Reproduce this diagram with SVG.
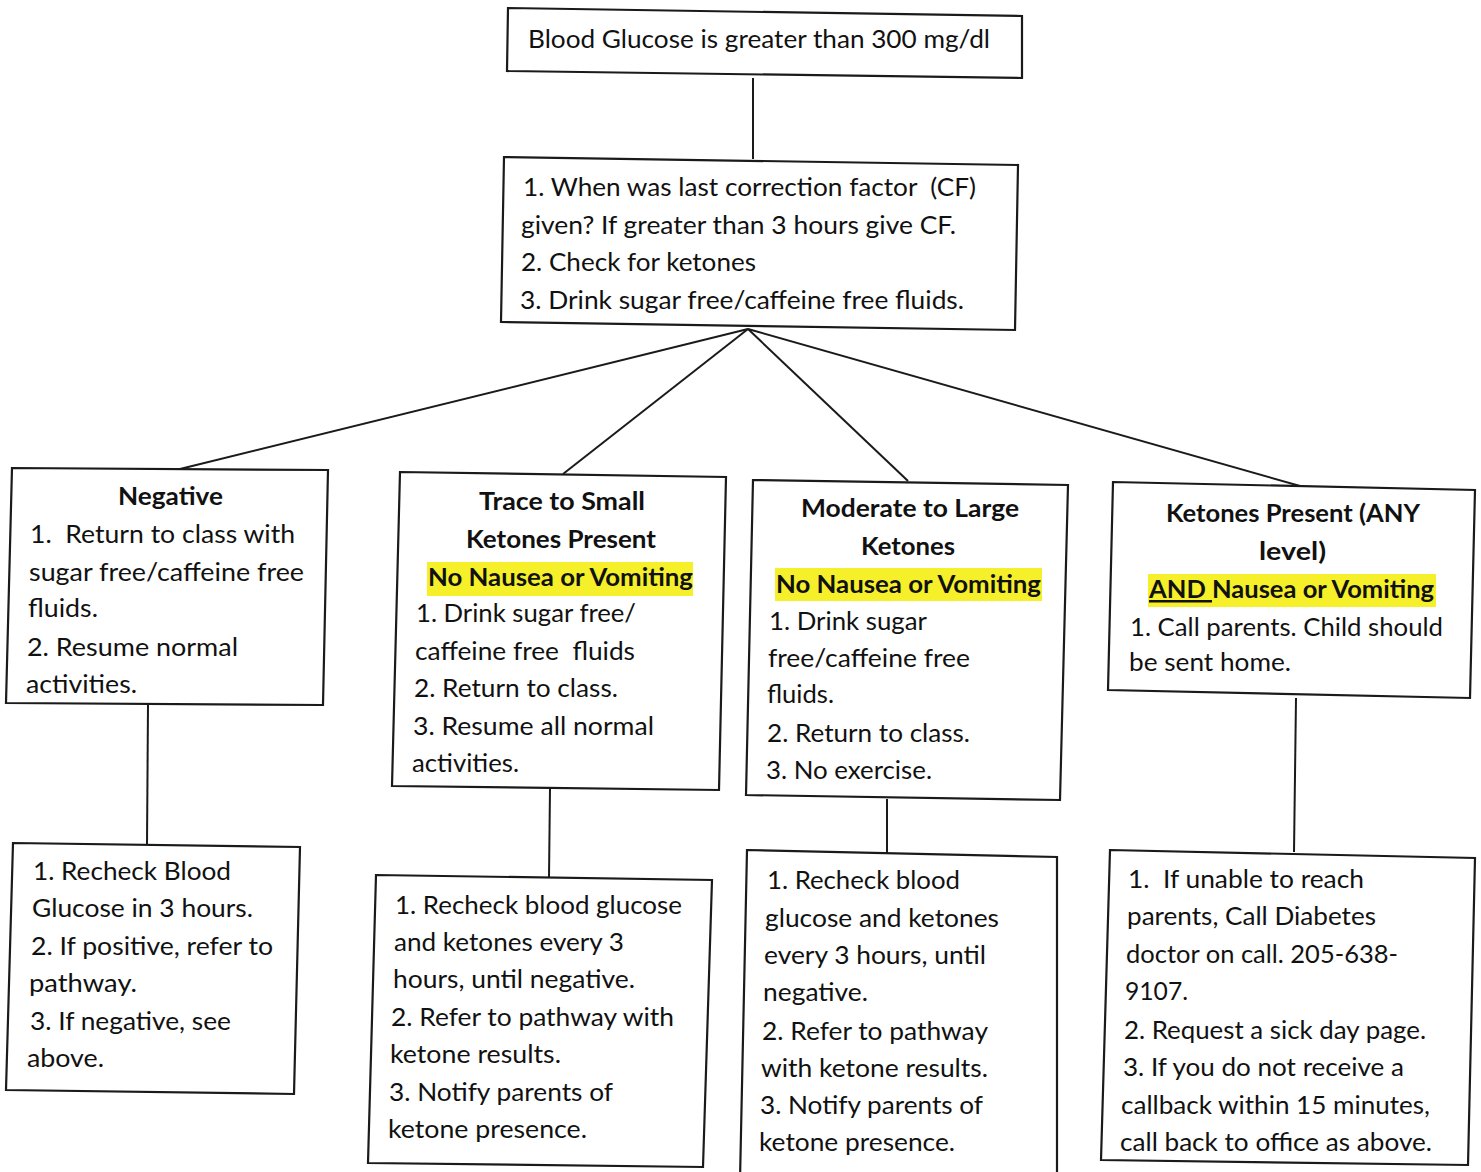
<svg xmlns="http://www.w3.org/2000/svg" width="1481" height="1172" viewBox="0 0 1481 1172" xml:space="preserve">
<style>
.box{fill:#fff;stroke:#1a1a1a;stroke-width:2.2}
.c line{stroke:#1a1a1a;stroke-width:2}
text{font-family:Lato,"Open Sans","Liberation Sans",sans-serif;font-size:25px;fill:#111;white-space:pre}
.b{font-weight:bold}
.hl{fill:#f6f02a}
</style>
<rect width="1481" height="1172" fill="#fff"/>
<g class="c" id="connectors">
<line x1="753" y1="78" x2="753" y2="159"/>
<line x1="748" y1="329" x2="180" y2="469"/>
<line x1="748" y1="329" x2="563" y2="474"/>
<line x1="748" y1="329" x2="908" y2="481"/>
<line x1="748" y1="329" x2="1300" y2="486"/>
<line x1="148" y1="705" x2="147" y2="844"/>
<line x1="550" y1="789" x2="549" y2="877"/>
<line x1="887" y1="799" x2="887" y2="856"/>
<line x1="1296" y1="698" x2="1294" y2="852"/>
</g>
<g id="n-top">
<polygon class="box" points="508,8 1022,16 1022,78 507,71"/>
<text x="528" y="48" textLength="462" lengthAdjust="spacingAndGlyphs">Blood Glucose is greater than 300 mg/dl</text>
</g>
<g id="n-steps">
<polygon class="box" points="504,157 1018,165 1015,330 501,322"/>
<text x="523" y="196" textLength="453" lengthAdjust="spacingAndGlyphs">1. When was last correction factor  (CF)</text>
<text x="521" y="234" textLength="435" lengthAdjust="spacingAndGlyphs">given? If greater than 3 hours give CF.</text>
<text x="521" y="271" textLength="235" lengthAdjust="spacingAndGlyphs">2. Check for ketones</text>
<text x="520" y="309" textLength="444" lengthAdjust="spacingAndGlyphs">3. Drink sugar free/caffeine free fluids.</text>
</g>
<g id="n-negative">
<polygon class="box" points="12,468 328,470 323,705 6,703"/>
<text class="b" x="118" y="505" textLength="105" lengthAdjust="spacingAndGlyphs">Negative</text>
<text x="30" y="543" textLength="265" lengthAdjust="spacingAndGlyphs">1.  Return to class with</text>
<text x="29" y="581" textLength="275" lengthAdjust="spacingAndGlyphs">sugar free/caffeine free</text>
<text x="28" y="617" textLength="70" lengthAdjust="spacingAndGlyphs">fluids.</text>
<text x="27" y="656" textLength="211" lengthAdjust="spacingAndGlyphs">2. Resume normal</text>
<text x="26" y="693" textLength="111" lengthAdjust="spacingAndGlyphs">activities.</text>
</g>
<g id="n-trace">
<polygon class="box" points="400,472 726,477 719,790 392,786"/>
<rect class="hl" x="427" y="562" width="266" height="34"/>
<text class="b" x="479" y="510" textLength="166" lengthAdjust="spacingAndGlyphs">Trace to Small</text>
<text class="b" x="466" y="548" textLength="190" lengthAdjust="spacingAndGlyphs">Ketones Present</text>
<text class="b" x="428" y="586" textLength="265" lengthAdjust="spacingAndGlyphs">No Nausea or Vomiting</text>
<text x="416" y="622" textLength="220" lengthAdjust="spacingAndGlyphs">1. Drink sugar free/</text>
<text x="415" y="660" textLength="220" lengthAdjust="spacingAndGlyphs">caffeine free  fluids</text>
<text x="414" y="697" textLength="204" lengthAdjust="spacingAndGlyphs">2. Return to class.</text>
<text x="413" y="735" textLength="241" lengthAdjust="spacingAndGlyphs">3. Resume all normal</text>
<text x="412" y="772" textLength="107" lengthAdjust="spacingAndGlyphs">activities.</text>
</g>
<g id="n-moderate">
<polygon class="box" points="753,480 1068,485 1060,800 746,795"/>
<rect class="hl" x="775" y="568" width="267" height="33"/>
<text class="b" x="801" y="517" textLength="218" lengthAdjust="spacingAndGlyphs">Moderate to Large</text>
<text class="b" x="861" y="555" textLength="94" lengthAdjust="spacingAndGlyphs">Ketones</text>
<text class="b" x="776" y="593" textLength="265" lengthAdjust="spacingAndGlyphs">No Nausea or Vomiting</text>
<text x="769" y="630" textLength="158" lengthAdjust="spacingAndGlyphs">1. Drink sugar</text>
<text x="768" y="667" textLength="202" lengthAdjust="spacingAndGlyphs">free/caffeine free</text>
<text x="767" y="703" textLength="67" lengthAdjust="spacingAndGlyphs">fluids.</text>
<text x="767" y="742" textLength="203" lengthAdjust="spacingAndGlyphs">2. Return to class.</text>
<text x="766" y="779" textLength="166" lengthAdjust="spacingAndGlyphs">3. No exercise.</text>
</g>
<g id="n-ketones-nausea">
<polygon class="box" points="1113,482 1475,490 1470,698 1108,690"/>
<rect class="hl" x="1148" y="574" width="288" height="33"/>
<text class="b" x="1166" y="522" textLength="254" lengthAdjust="spacingAndGlyphs">Ketones Present (ANY</text>
<text class="b" x="1259" y="560" textLength="67" lengthAdjust="spacingAndGlyphs">level)</text>
<text class="b" x="1149" y="598" textLength="285" lengthAdjust="spacingAndGlyphs"><tspan text-decoration="underline">AND </tspan>Nausea or Vomiting</text>
<text x="1130" y="636" textLength="313" lengthAdjust="spacingAndGlyphs">1. Call parents. Child should</text>
<text x="1129" y="671" textLength="162" lengthAdjust="spacingAndGlyphs">be sent home.</text>
</g>
<g id="n-recheck-negative">
<polygon class="box" points="13,843 300,847 294,1094 6,1090"/>
<text x="33" y="880" textLength="198" lengthAdjust="spacingAndGlyphs">1. Recheck Blood</text>
<text x="32" y="917" textLength="221" lengthAdjust="spacingAndGlyphs">Glucose in 3 hours.</text>
<text x="31" y="955" textLength="242" lengthAdjust="spacingAndGlyphs">2. If positive, refer to</text>
<text x="29" y="992" textLength="108" lengthAdjust="spacingAndGlyphs">pathway.</text>
<text x="30" y="1030" textLength="201" lengthAdjust="spacingAndGlyphs">3. If negative, see</text>
<text x="27" y="1067" textLength="77" lengthAdjust="spacingAndGlyphs">above.</text>
</g>
<g id="n-recheck-trace">
<polygon class="box" points="376,875 712,880 703,1167 368,1163"/>
<text x="395" y="914" textLength="287" lengthAdjust="spacingAndGlyphs">1. Recheck blood glucose</text>
<text x="394" y="951" textLength="230" lengthAdjust="spacingAndGlyphs">and ketones every 3</text>
<text x="393" y="988" textLength="242" lengthAdjust="spacingAndGlyphs">hours, until negative.</text>
<text x="391" y="1026" textLength="283" lengthAdjust="spacingAndGlyphs">2. Refer to pathway with</text>
<text x="390" y="1063" textLength="171" lengthAdjust="spacingAndGlyphs">ketone results.</text>
<text x="389" y="1101" textLength="224" lengthAdjust="spacingAndGlyphs">3. Notify parents of</text>
<text x="388" y="1138" textLength="199" lengthAdjust="spacingAndGlyphs">ketone presence.</text>
</g>
<g id="n-recheck-moderate">
<polygon class="box" points="747,850 1057,857 1057,1180 740,1180"/>
<text x="767" y="889" textLength="193" lengthAdjust="spacingAndGlyphs">1. Recheck blood</text>
<text x="765" y="927" textLength="234" lengthAdjust="spacingAndGlyphs">glucose and ketones</text>
<text x="764" y="964" textLength="222" lengthAdjust="spacingAndGlyphs">every 3 hours, until</text>
<text x="763" y="1001" textLength="105" lengthAdjust="spacingAndGlyphs">negative.</text>
<text x="762" y="1040" textLength="226" lengthAdjust="spacingAndGlyphs">2. Refer to pathway</text>
<text x="761" y="1077" textLength="227" lengthAdjust="spacingAndGlyphs">with ketone results.</text>
<text x="760" y="1114" textLength="223" lengthAdjust="spacingAndGlyphs">3. Notify parents of</text>
<text x="759" y="1151" textLength="196" lengthAdjust="spacingAndGlyphs">ketone presence.</text>
</g>
<g id="n-call-doctor">
<polygon class="box" points="1110,850 1475,858 1468,1165 1101,1160"/>
<text x="1128" y="888" textLength="236" lengthAdjust="spacingAndGlyphs">1.  If unable to reach</text>
<text x="1127" y="925" textLength="249" lengthAdjust="spacingAndGlyphs">parents, Call Diabetes</text>
<text x="1126" y="963" textLength="272" lengthAdjust="spacingAndGlyphs">doctor on call. 205-638-</text>
<text x="1125" y="1000" textLength="63" lengthAdjust="spacingAndGlyphs">9107.</text>
<text x="1124" y="1039" textLength="302" lengthAdjust="spacingAndGlyphs">2. Request a sick day page.</text>
<text x="1123" y="1076" textLength="281" lengthAdjust="spacingAndGlyphs">3. If you do not receive a</text>
<text x="1121" y="1114" textLength="309" lengthAdjust="spacingAndGlyphs">callback within 15 minutes,</text>
<text x="1120" y="1151" textLength="312" lengthAdjust="spacingAndGlyphs">call back to office as above.</text>
</g>
</svg>
